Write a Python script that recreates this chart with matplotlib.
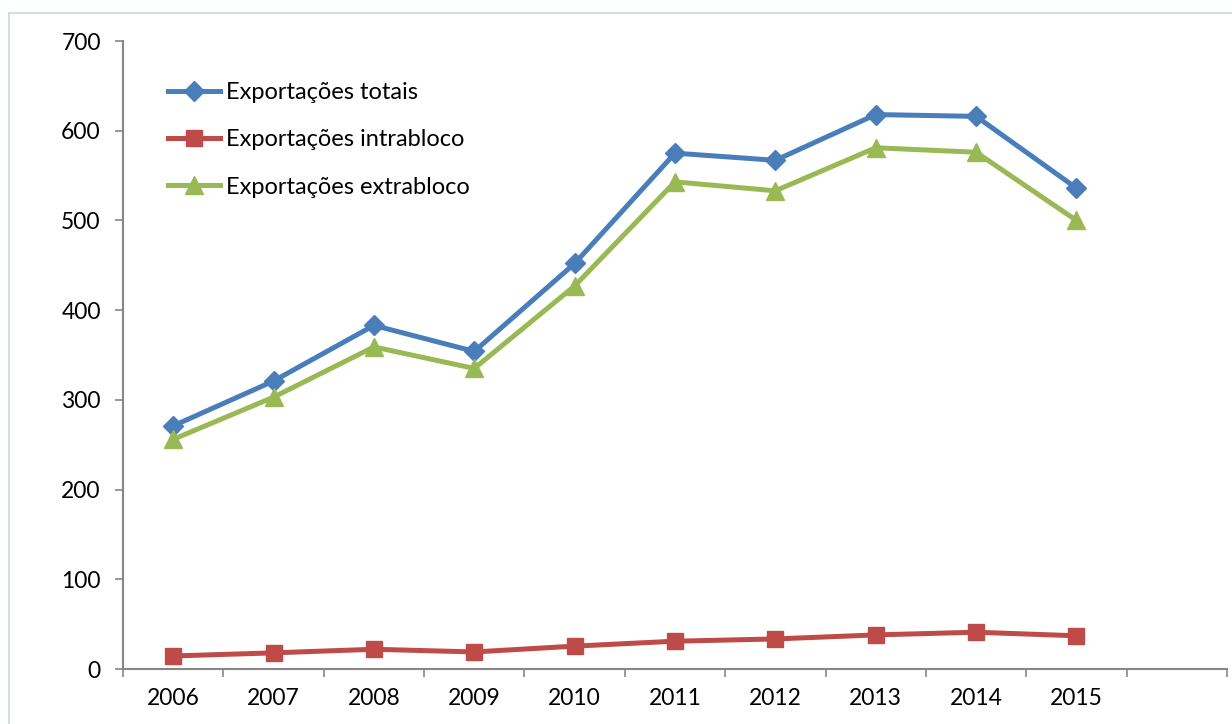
import matplotlib
matplotlib.use("Agg")
import matplotlib.pyplot as plt
from matplotlib.lines import Line2D

years = ["2006", "2007", "2008", "2009", "2010", "2011", "2012", "2013", "2014", "2015"]
totais = [271, 321, 383, 354, 452, 575, 567, 618, 616, 536]
intrabloco = [14.5, 18, 22, 19, 25.5, 31, 33.5, 38, 41, 37]
extrabloco = [256, 303, 359, 335, 427, 543, 533, 581, 576, 500]
labels = ["Exportações totais", "Exportações intrabloco", "Exportações extrabloco"]

plt.rcParams['font.family'] = ['Lato', 'DejaVu Sans']

fig = plt.figure(figsize=(12.32, 7.24), dpi=100)
ax = fig.add_axes([123/1232, 55/724, (1227-123)/1232, (669-41)/724])

# chart frame border (top and left visible)
fig.add_artist(Line2D([9/1232, 9/1232], [0, 1-13/724], transform=fig.transFigure, color='#C9D7EA', lw=1.2))
fig.add_artist(Line2D([9/1232, 1], [1-13/724, 1-13/724], transform=fig.transFigure, color='#C9D7EA', lw=1.2))

x = [i + 0.5 for i in range(len(years))]
ax.plot(x, totais, color='#4A7EBB', lw=3.6, marker='D', markersize=10, label=labels[0])
ax.plot(x, intrabloco, color='#BE4B48', lw=3.6, marker='s', markersize=12, label=labels[1])
ax.plot(x, extrabloco, color='#98B954', lw=3.6, marker='^', markersize=13, label=labels[2])

ax.set_xlim(0, 11)
ax.set_ylim(0, 700)
ax.set_yticks(range(0, 701, 100))
ax.set_xticks(range(0, 12))
ax.set_xticklabels([])
ax.set_xticks(x, minor=True)
ax.set_xticklabels(years, minor=True)
ax.tick_params(axis='x', which='minor', length=0, pad=14, labelsize=16.5)
ax.tick_params(axis='x', which='major', length=6, width=1.2, color='#868686', direction='out')
ax.tick_params(axis='y', length=6, width=1.2, color='#868686', labelsize=16.5, pad=10)

for s in ['top', 'right']:
    ax.spines[s].set_visible(False)
for s in ['left', 'bottom']:
    ax.spines[s].set_color('#868686')
    ax.spines[s].set_linewidth(1.5)

leg = ax.legend(loc='upper left', bbox_to_anchor=(0.041, 0.935), frameon=False,
                fontsize=17, handlelength=2.2, handletextpad=0.25, labelspacing=1.12,
                borderaxespad=0, borderpad=0)

fig.savefig("out.png", dpi=100)
